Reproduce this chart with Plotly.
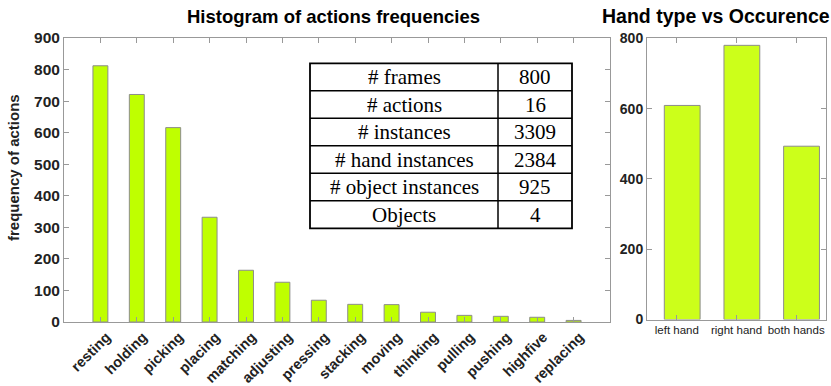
import plotly.graph_objects as go

# action histogram
acoes = ['resting', 'holding', 'picking', 'placing', 'matching', 'adjusting', 'pressing',
         'stacking', 'moving', 'thinking', 'pulling', 'pushing', 'highfive', 'replacing']
frequencias = [812, 721, 616, 332, 164, 126, 69, 56, 55, 31, 21, 18, 15, 5]

# hand type chart
maos = ['left hand', 'right hand', 'both hands']
ocorrencias = [609, 780, 493]

# stats table
tabela_nomes = ['# frames', '# actions', '# instances', '# hand instances',
                '# object instances', 'Objects']
tabela_valores = ['800', '16', '3309', '2384', '925', '4']

W, H = 831, 386


def px(v):
    return v / W


def py(v):
    return 1 - v / H


posicoes = list(range(1, len(acoes) + 1))
posicoes_maos = list(range(1, len(maos) + 1))

figura = go.Figure()

figura.add_trace(go.Bar(
    x=posicoes, y=frequencias, width=0.41,
    marker=dict(color='#BFFF00', line=dict(color='#8c8c8c', width=1)),
    xaxis='x', yaxis='y', showlegend=False
))

figura.add_trace(go.Bar(
    x=posicoes_maos, y=ocorrencias, width=0.6, offset=-0.21,
    marker=dict(color='#CCFF1A', line=dict(color='#8c8c8c', width=1)),
    xaxis='x2', yaxis='y2', showlegend=False
))

# table drawn with shapes + annotations
t_esq, t_dir, t_meio, t_topo, t_linha = 310, 572, 498, 63.3, 27.5
t_base = t_topo + t_linha * len(tabela_nomes)
formas = [dict(type='rect', xref='paper', yref='paper',
               x0=px(t_esq), x1=px(t_dir), y0=py(t_base), y1=py(t_topo),
               line=dict(color='black', width=1.8), fillcolor='white', layer='above'),
          dict(type='line', xref='paper', yref='paper',
               x0=px(t_meio), x1=px(t_meio), y0=py(t_base), y1=py(t_topo),
               line=dict(color='black', width=1.5), layer='above')]
notas = []
for i, (nome, valor) in enumerate(zip(tabela_nomes, tabela_valores)):
    topo = t_topo + i * t_linha
    if i > 0:
        formas.append(dict(type='line', xref='paper', yref='paper',
                           x0=px(t_esq), x1=px(t_dir), y0=py(topo), y1=py(topo),
                           line=dict(color='black', width=1.5), layer='above'))
    centro = py(topo + t_linha / 2)
    notas.append(dict(text=nome, x=px((t_esq + t_meio) / 2), y=centro,
                      xref='paper', yref='paper', showarrow=False,
                      xanchor='center', yanchor='middle',
                      font=dict(family='Liberation Serif', size=21, color='black')))
    notas.append(dict(text=valor, x=px((t_meio + t_dir) / 2), y=centro,
                      xref='paper', yref='paper', showarrow=False,
                      xanchor='center', yanchor='middle',
                      font=dict(family='Liberation Serif', size=21, color='black')))

notas += [
    dict(text='<b>Histogram of actions frequencies</b>', x=px(333), y=py(16),
         xref='paper', yref='paper', showarrow=False, xanchor='center',
         yanchor='middle', font=dict(size=18.5, color='black')),
    dict(text='<b>Hand type vs Occurence</b>', x=px(600), y=py(16),
         xref='paper', yref='paper', showarrow=False, xanchor='left',
         yanchor='middle', font=dict(size=19.5, color='black')),
    dict(text='<b>frequency of actions</b>', x=px(13), y=py(168),
         xref='paper', yref='paper', showarrow=False, xanchor='center',
         yanchor='middle', textangle=-90, font=dict(size=15, color='#222222')),
]

eixo = dict(showline=True, linecolor='#999999', linewidth=1, mirror='ticks',
            ticks='inside', ticklen=5, tickcolor='#999999', showgrid=False,
            zeroline=False, automargin=False)

figura.update_layout(
    width=W, height=H,
    margin=dict(l=0, r=0, t=0, b=0),
    plot_bgcolor='white', paper_bgcolor='white',
    font=dict(family='Liberation Sans', color='#222222'),
    xaxis=dict(eixo, domain=[px(64), px(610)], range=[0, 15],
               tickvals=posicoes, ticktext=acoes, tickangle=-45,
               ticklabelshift=6,
               tickfont=dict(size=14.5, weight='bold')),
    yaxis=dict(eixo, domain=[py(322), py(38)], range=[0, 900], dtick=100,
               tickfont=dict(size=15.5, weight='bold')),
    xaxis2=dict(eixo, anchor='y2', domain=[px(647), px(826)], range=[0.5, 3.5],
                tickvals=posicoes_maos, ticktext=maos,
                tickfont=dict(size=11.5)),
    yaxis2=dict(eixo, anchor='x2', domain=[py(319.5), py(38.3)], range=[0, 800],
                dtick=200, tickfont=dict(size=14, weight='bold')),
    shapes=formas,
    annotations=notas,
)

figura.write_html('out.html', config={'displayModeBar': False},
                  post_script="document.body.style.margin='0';")
